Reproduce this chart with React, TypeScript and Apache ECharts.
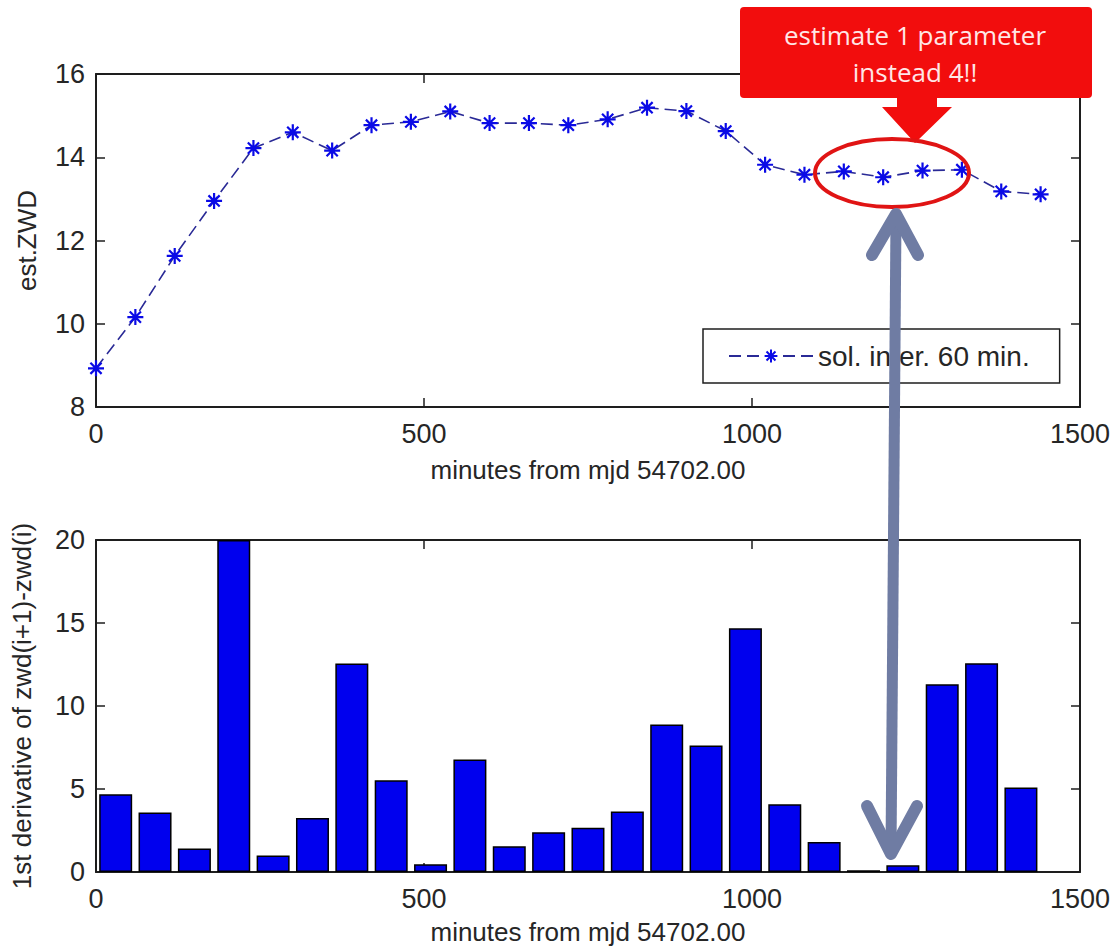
import React, { useEffect, useRef } from "react";
import * as echarts from "echarts";

// sample epochs (minutes from mjd 54702.00) and estimated zenith wet delay
const sampleMinutes = [0, 60, 120, 180, 240, 300, 360, 420, 480, 540, 600, 660, 720, 780, 840, 900, 960, 1020, 1080, 1140, 1200, 1260, 1320, 1380, 1440];
const estZwd = [8.93, 10.16, 11.63, 12.95, 14.22, 14.6, 14.16, 14.77, 14.85, 15.1, 14.82, 14.82, 14.77, 14.91, 15.19, 15.11, 14.63, 13.82, 13.58, 13.66, 13.52, 13.68, 13.7, 13.18, 13.11];

// first derivative bars, centred between consecutive epochs
const barCenters = [30, 90, 150, 210, 270, 330, 390, 450, 510, 570, 630, 690, 750, 810, 870, 930, 990, 1050, 1110, 1170, 1230, 1290, 1350, 1410];
const derivative = [4.68, 3.58, 1.41, 20, 1.0, 3.26, 12.56, 5.53, 0.46, 6.77, 1.55, 2.4, 2.67, 3.64, 8.89, 7.62, 14.69, 4.08, 1.8, 0.1, 0.4, 11.31, 12.57, 5.09];

const xTicks = [0, 500, 1000, 1500];
const topYTicks = [8, 10, 12, 14, 16];
const bottomYTicks = [0, 5, 10, 15, 20];

const legendLabel = "sol. inter. 60 min.";
const xTitle = "minutes from mjd 54702.00";
const topYTitle = "est.ZWD";
const bottomYTitle = "1st derivative of zwd(i+1)-zwd(i)";
const calloutLines = ["estimate 1 parameter", "instead 4!!"];

const FONT = "'Liberation Sans', Arial, Helvetica, sans-serif";
const INK = "#262626";
const AXIS = "#1e1e1e";
const ARROW = "#6f7ca3";
const CALLOUT_RED = "#f20d0d";

const starPath = "path://M0,-10L0,10M-10,0L10,0M-7,-7L7,7M-7,7L7,-7";

const plainNumber = (v: number) => String(v);

function mainXAxis(gridIndex: number, nameGap: number) {
  return {
    type: "value",
    gridIndex,
    min: xTicks[0],
    max: xTicks[xTicks.length - 1],
    interval: 500,
    name: xTitle,
    nameLocation: "middle",
    nameGap,
    nameTextStyle: { fontFamily: FONT, fontSize: 26, color: INK },
    axisLine: { show: true, onZero: false, lineStyle: { color: AXIS, width: 2 } },
    axisTick: { show: true, inside: true, length: 9, lineStyle: { color: AXIS, width: 1.5 } },
    axisLabel: { fontFamily: FONT, fontSize: 27, color: INK, margin: 13, formatter: plainNumber },
    splitLine: { show: false },
  };
}

function mirrorXAxis(gridIndex: number) {
  return {
    type: "value",
    gridIndex,
    position: "top",
    min: xTicks[0],
    max: xTicks[xTicks.length - 1],
    interval: 500,
    axisLine: { show: true, onZero: false, lineStyle: { color: AXIS, width: 2 } },
    axisTick: { show: true, inside: true, length: 9, lineStyle: { color: AXIS, width: 1.5 } },
    axisLabel: { show: false },
    splitLine: { show: false },
  };
}

function mainYAxis(gridIndex: number, ticks: number[], interval: number, name: string, nameGap: number) {
  return {
    type: "value",
    gridIndex,
    min: ticks[0],
    max: ticks[ticks.length - 1],
    interval,
    name,
    nameLocation: "middle",
    nameRotate: 90,
    nameGap,
    nameTextStyle: { fontFamily: FONT, fontSize: 26, color: INK },
    axisLine: { show: true, onZero: false, lineStyle: { color: AXIS, width: 2 } },
    axisTick: { show: true, inside: true, length: 9, lineStyle: { color: AXIS, width: 1.5 } },
    axisLabel: { fontFamily: FONT, fontSize: 27, color: INK, margin: 11, formatter: plainNumber },
    splitLine: { show: false },
  };
}

function mirrorYAxis(gridIndex: number, ticks: number[], interval: number) {
  return {
    type: "value",
    gridIndex,
    position: "right",
    min: ticks[0],
    max: ticks[ticks.length - 1],
    interval,
    axisLine: { show: true, onZero: false, lineStyle: { color: AXIS, width: 2 } },
    axisTick: { show: true, inside: true, length: 9, lineStyle: { color: AXIS, width: 1.5 } },
    axisLabel: { show: false },
    splitLine: { show: false },
  };
}

function calloutText(text: string, y: number) {
  return {
    type: "text",
    z: 101,
    x: 915,
    y,
    style: {
      text,
      fontFamily: "'Open Sans', 'DejaVu Sans', sans-serif",
      fontSize: 26,
      fill: "#ffe6e6",
      align: "center",
      verticalAlign: "middle",
    },
  };
}

export default function App() {
  const ref = useRef<HTMLDivElement>(null);

  useEffect(() => {
    if (!ref.current) return;
    const chart = echarts.init(ref.current, undefined, { renderer: "svg" });

    const option = {
      animation: false,
      backgroundColor: "#ffffff",
      grid: [
        { left: 96, top: 74, width: 984, height: 333 },
        { left: 96, top: 540, width: 984, height: 332 },
      ],
      xAxis: [mainXAxis(0, 50), mirrorXAxis(0), mainXAxis(1, 47), mirrorXAxis(1)],
      yAxis: [
        mainYAxis(0, topYTicks, 2, topYTitle, 56),
        mirrorYAxis(0, topYTicks, 2),
        mainYAxis(1, bottomYTicks, 5, bottomYTitle, 61),
        mirrorYAxis(1, bottomYTicks, 5),
      ],
      legend: {
        data: [legendLabel],
        left: 703,
        top: 329,
        orient: "horizontal",
        padding: [13, 30, 13, 25],
        borderColor: AXIS,
        borderWidth: 1.5,
        backgroundColor: "#ffffff",
        itemWidth: 84,
        itemHeight: 16,
        itemGap: 6,
        textStyle: { fontFamily: FONT, fontSize: 28, color: INK },
        selectedMode: false,
      },
      series: [
        {
          name: legendLabel,
          type: "line",
          xAxisIndex: 0,
          yAxisIndex: 0,
          data: sampleMinutes.map((m, i) => [m, estZwd[i]]),
          symbol: starPath,
          symbolSize: 16,
          showAllSymbol: true,
          lineStyle: { color: "#2a2a96", width: 1.6, type: [12, 6] },
          itemStyle: { color: "#0a0ae6", borderColor: "#0a0ae6", borderWidth: 2.2 },
          z: 3,
        },
        {
          name: "derivative",
          type: "bar",
          xAxisIndex: 2,
          yAxisIndex: 2,
          data: barCenters.map((m, i) => [m, derivative[i]]),
          barWidth: 33,
          itemStyle: { color: "#0000ee", borderColor: "#000000", borderWidth: 1.5 },
        },
      ],
      graphic: [
        // red call-out box with its downward pointer
        {
          type: "rect",
          z: 100,
          shape: { x: 740, y: 7, width: 352, height: 91, r: 4 },
          style: { fill: CALLOUT_RED },
        },
        {
          type: "polygon",
          z: 100,
          shape: {
            points: [
              [897, 96],
              [937, 96],
              [937, 107],
              [952, 107],
              [915, 143],
              [882, 107],
              [897, 107],
            ],
          },
          style: { fill: CALLOUT_RED },
        },
        calloutText(calloutLines[0], 35),
        calloutText(calloutLines[1], 72),
        // highlight ring round the flat stretch
        {
          type: "ellipse",
          z: 100,
          shape: { cx: 892, cy: 173, rx: 77, ry: 34 },
          style: { fill: "none", stroke: "#e01414", lineWidth: 4 },
        },
        // double-headed connector between the two panels
        {
          type: "line",
          z: 102,
          shape: { x1: 896, y1: 218, x2: 891, y2: 852 },
          style: { stroke: ARROW, lineWidth: 11 },
        },
        {
          type: "polyline",
          z: 102,
          shape: { points: [[872, 255], [896, 214], [918, 255]] },
          style: { stroke: ARROW, lineWidth: 12, lineCap: "round", lineJoin: "round", fill: "none" },
        },
        {
          type: "polyline",
          z: 102,
          shape: { points: [[867, 806], [891, 854], [917, 806]] },
          style: { stroke: ARROW, lineWidth: 12, lineCap: "round", lineJoin: "round", fill: "none" },
        },
      ],
    };

    chart.setOption(option as any);
    return () => chart.dispose();
  }, []);

  return (
    <div
      ref={ref}
      style={{ position: "absolute", left: 0, top: 0, width: 1113, height: 950 }}
    />
  );
}
